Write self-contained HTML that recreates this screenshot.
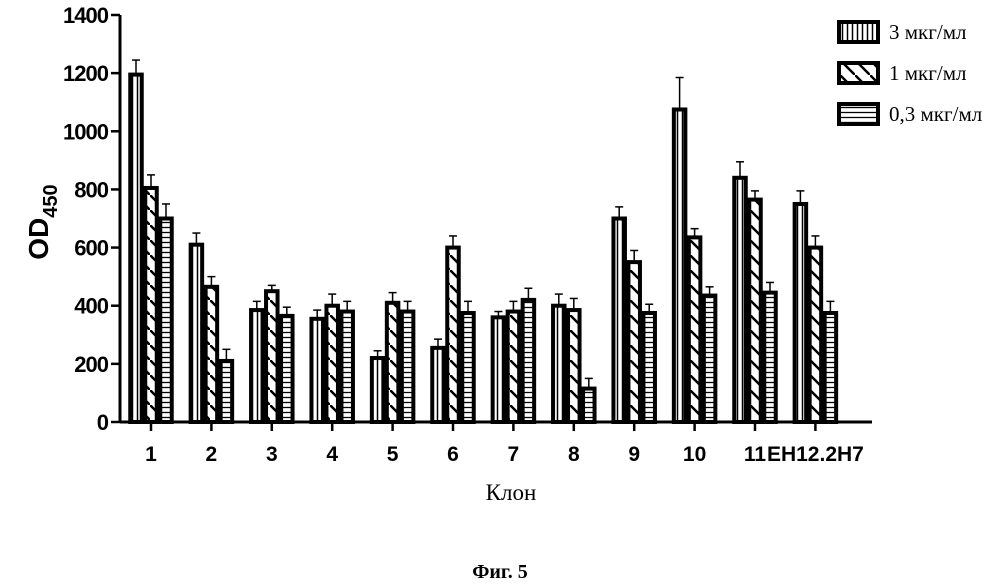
<!DOCTYPE html>
<html><head><meta charset="utf-8"><style>
body{margin:0;background:#fff;}
svg{display:block}
</style></head><body>
<svg id="chart" width="999" height="586" viewBox="0 0 999 586" xmlns="http://www.w3.org/2000/svg">
<defs>
<pattern id="pv" patternUnits="userSpaceOnUse" width="5" height="5"><rect width="5" height="5" fill="#fff"/><line x1="2.5" y1="0" x2="2.5" y2="5" stroke="#000" stroke-width="1.5"/></pattern>
<pattern id="pd" patternUnits="userSpaceOnUse" width="15" height="15"><rect width="15" height="15" fill="#fff"/><line x1="0" y1="0" x2="15" y2="15" stroke="#000" stroke-width="2.5"/></pattern>
<pattern id="ph" patternUnits="userSpaceOnUse" width="5" height="5"><rect width="5" height="5" fill="#fff"/><line x1="0" y1="2.5" x2="5" y2="2.5" stroke="#000" stroke-width="1.3"/></pattern>
</defs>
<g id="bars"></g>
<g id="axes"></g>
<text transform="translate(48,222) rotate(-90)" text-anchor="middle" font-family="Liberation Sans, sans-serif" font-weight="bold" font-size="28">OD<tspan font-size="20" dy="9">450</tspan></text>
<text x="511" y="500" text-anchor="middle" font-family="Liberation Serif, serif" font-size="23">Клон</text>
<text x="500" y="578" text-anchor="middle" font-family="Liberation Serif, serif" font-weight="bold" font-size="20">Фиг. 5</text>
<g id="legend"></g>
</svg>
<script>
const categories=["1","2","3","4","5","6","7","8","9","10","11","EH12.2H7"];
const seriesNames=["3 мкг/мл","1 мкг/мл","0,3 мкг/мл"];
const s3=[1195,610,385,355,220,255,360,400,700,1075,840,750];
const s1=[805,465,450,400,410,600,380,385,550,635,765,600];
const s03=[700,210,365,380,380,375,420,115,375,435,445,375];
const e3=[50,40,30,30,25,30,20,40,40,110,55,45];
const e1=[45,35,20,40,35,40,35,40,40,30,30,40];
const e03=[50,40,30,35,35,40,40,35,30,30,35,40];
const yTicks=[0,200,400,600,800,1000,1200,1400];
const NS="http://www.w3.org/2000/svg";
const x0=120,y0=422,yTop=15;
function yS(v){return y0-(v/1400)*(y0-yTop);}
function xC(i){return 151+i*60.4;}
function mk(t,a,p){const e=document.createElementNS(NS,t);for(const k in a)e.setAttribute(k,a[k]);p.appendChild(e);return e;}
const bars=document.getElementById('bars'),axes=document.getElementById('axes'),leg=document.getElementById('legend');
const series=[s3,s1,s03],errs=[e3,e1,e03],fills=['url(#pv)','url(#pd)','url(#ph)'];
const bw=15;
series.forEach((s,si)=>{s.forEach((v,i)=>{
 const x=xC(i)+(si-1)*bw-bw/2;
 const er=mk('line',{x1:x+bw/2,x2:x+bw/2,y1:yS(v),y2:yS(v+errs[si][i]),stroke:'#000','stroke-width':1.5},bars);
 
 
 const cap=mk('line',{x1:x+bw/2-4,x2:x+bw/2+4,y1:yS(v+errs[si][i]),y2:yS(v+errs[si][i]),stroke:'#000','stroke-width':1.5},bars);
 
 
 const r=mk('rect',{x:x+1.75,y:yS(v),width:bw-3.5,height:y0-yS(v),fill:fills[si],stroke:'#000','stroke-width':4},bars);
 
 
});});
const ya=mk('line',{x1:x0,x2:x0,y1:yTop,y2:y0,stroke:'#000','stroke-width':3},axes);


const xa=mk('line',{x1:x0,x2:872,y1:y0,y2:y0,stroke:'#000','stroke-width':3},axes);


yTicks.forEach(t=>{
 mk('line',{x1:x0-9,x2:x0,y1:yS(t),y2:yS(t),stroke:'#000','stroke-width':2.5},axes);
 const tx=mk('text',{x:x0-12,y:yS(t)+8,'text-anchor':'end','font-family':'Liberation Sans, sans-serif','font-weight':'bold','font-size':22,'letter-spacing':-1},axes);
 tx.textContent=t;
 
 
});
categories.forEach((c,i)=>{
 mk('line',{x1:xC(i),x2:xC(i),y1:y0,y2:y0+9,stroke:'#000','stroke-width':2.5},axes);
 const tx=mk('text',{x:xC(i),y:461,'text-anchor':'middle','font-family':'Liberation Sans, sans-serif','font-weight':'bold','font-size':21},axes);
 tx.textContent=c;
 
 
});
seriesNames.forEach((n,i)=>{
 const y=22+i*41;
 const r=mk('rect',{x:839,y:y,width:39,height:20,fill:fills[i],stroke:'#000','stroke-width':4},leg);
 
 
 const t=mk('text',{x:889,y:y+17,'font-family':'Liberation Serif, serif','font-size':21},leg);
 t.textContent=n;
 
 
});
</script>
</body></html>
